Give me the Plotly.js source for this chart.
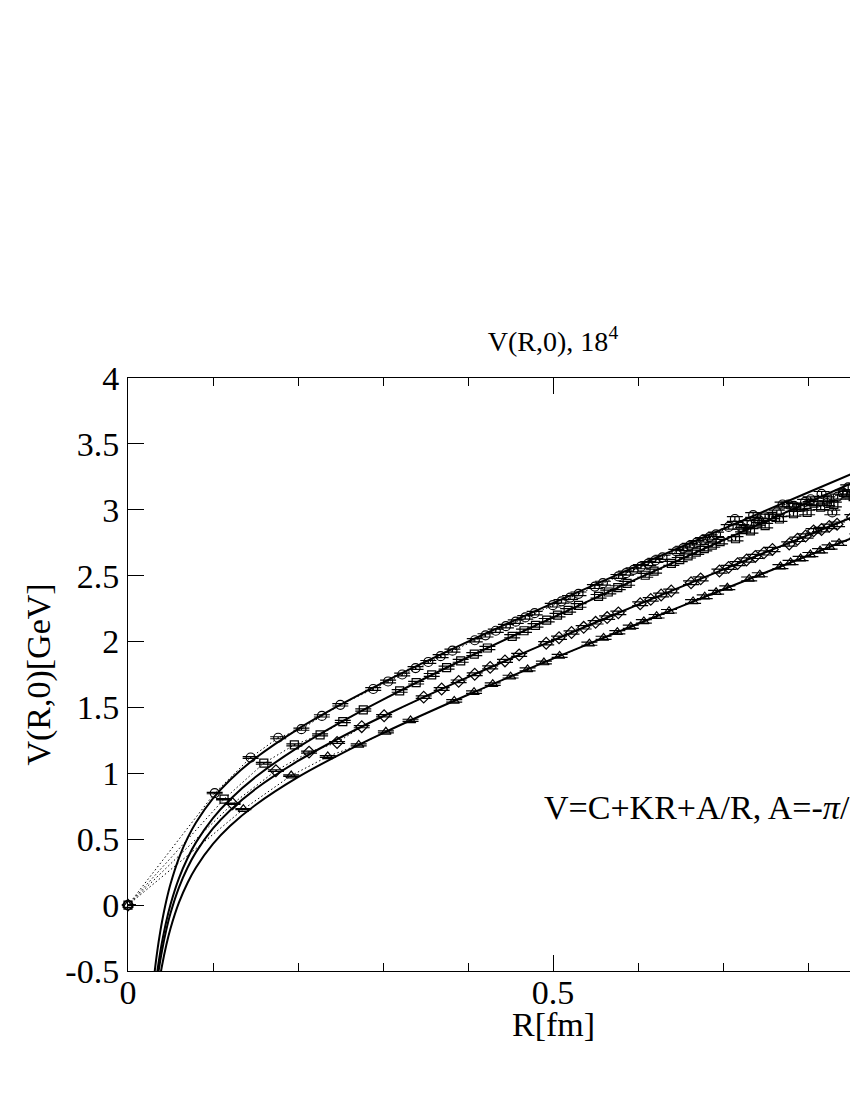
<!DOCTYPE html>
<html><head><meta charset="utf-8">
<script src="https://cdn.plot.ly/plotly-3.0.1.min.js"></script>
<style>html,body{margin:0;padding:0;overflow:hidden;background:#fff}</style>
</head><body><div id="chart" style="width:1000px;height:1100px"></div>
<script>
// Circle series (finest lattice spacing)
const circleR = [0, 0.102, 0.1443, 0.1767, 0.204, 0.2281, 0.2498, 0.2885, 0.306, 0.3226, 0.3383, 0.3533, 0.3678, 0.3817, 0.408, 0.4206, 0.4327, 0.4446, 0.4562, 0.4674, 0.4784, 0.4997, 0.51, 0.5201, 0.53, 0.5493, 0.5587, 0.577, 0.5859, 0.5948, 0.6034, 0.612, 0.6204, 0.6288, 0.6451, 0.6531, 0.661, 0.6689, 0.6766, 0.6842, 0.6918, 0.7067, 0.714, 0.7213, 0.7284, 0.7355, 0.7426, 0.7495, 0.7633, 0.7701, 0.7768, 0.7835, 0.7966, 0.8031, 0.816, 0.8224, 0.8286, 0.8349, 0.8411, 0.8473];
const circleV = [0, 0.85, 1.12, 1.27, 1.335, 1.436, 1.52, 1.640, 1.697, 1.750, 1.799, 1.845, 1.889, 1.931, 2.010, 2.047, 2.082, 2.117, 2.151, 2.183, 2.215, 2.276, 2.305, 2.334, 2.362, 2.417, 2.443, 2.494, 2.519, 2.544, 2.568, 2.592, 2.616, 2.639, 2.684, 2.707, 2.728, 2.750, 2.772, 2.793, 2.814, 2.87, 2.93, 2.87, 2.90, 2.96, 2.92, 2.95, 2.98, 3.04, 3.04, 3.03, 3.06, 3.08, 3.12, 3.05, 2.98, 3.10, 3.13, 3.17];

// Square series
const squareR = [0, 0.113, 0.1598, 0.1957, 0.226, 0.2527, 0.2768, 0.3196, 0.339, 0.3573, 0.3748, 0.3914, 0.4074, 0.4228, 0.452, 0.4659, 0.4794, 0.4926, 0.5053, 0.5178, 0.53, 0.5536, 0.565, 0.5762, 0.5872, 0.6085, 0.6189, 0.6392, 0.6491, 0.6589, 0.6685, 0.678, 0.6874, 0.6966, 0.7147, 0.7236, 0.7323, 0.741, 0.7496, 0.758, 0.7664, 0.7829, 0.791, 0.799, 0.807, 0.8149, 0.8227, 0.8304, 0.8456, 0.8531];
const squareV = [0, 0.804, 1.077, 1.216, 1.292, 1.393, 1.481, 1.625, 1.688, 1.747, 1.802, 1.854, 1.904, 1.951, 2.040, 2.082, 2.123, 2.162, 2.200, 2.237, 2.274, 2.343, 2.376, 2.409, 2.442, 2.503, 2.534, 2.593, 2.622, 2.650, 2.678, 2.705, 2.732, 2.758, 2.78, 2.85, 2.84, 2.90, 2.88, 2.95, 2.93, 2.97, 3.02, 2.98, 3.05, 3.02, 3.08, 3.04, 3.12, 3.10];

// Diamond series
const diamondR = [0, 0.123, 0.174, 0.213, 0.246, 0.275, 0.3013, 0.3479, 0.369, 0.389, 0.4079, 0.4261, 0.4435, 0.4602, 0.492, 0.5071, 0.5218, 0.5361, 0.5501, 0.5637, 0.5769, 0.6026, 0.615, 0.6272, 0.6391, 0.6624, 0.6737, 0.6958, 0.7066, 0.7172, 0.7277, 0.738, 0.7482, 0.7582, 0.7779, 0.7876, 0.7971, 0.8066, 0.8159, 0.8251, 0.8342, 0.8522];
const diamondV = [0, 0.769, 1.02, 1.161, 1.234, 1.354, 1.437, 1.578, 1.640, 1.698, 1.752, 1.804, 1.853, 1.899, 1.987, 2.029, 2.069, 2.108, 2.146, 2.182, 2.218, 2.287, 2.320, 2.353, 2.384, 2.446, 2.476, 2.535, 2.563, 2.591, 2.619, 2.646, 2.673, 2.699, 2.74, 2.776, 2.801, 2.84, 2.850, 2.874, 2.89, 2.945];

// Triangle series (coarsest lattice spacing)
const triangleR = [0, 0.1357, 0.192, 0.235, 0.2714, 0.3034, 0.3324, 0.3838, 0.4071, 0.4291, 0.4501, 0.4701, 0.4893, 0.5078, 0.5428, 0.5595, 0.5757, 0.5915, 0.6069, 0.6219, 0.6365, 0.6648, 0.6785, 0.6919, 0.7051, 0.7308, 0.7433, 0.7676, 0.7795, 0.7913, 0.8028, 0.8142, 0.8254, 0.8365, 0.8582];
const triangleV = [0, 0.728, 0.983, 1.128, 1.216, 1.315, 1.402, 1.550, 1.616, 1.677, 1.734, 1.789, 1.841, 1.891, 1.984, 2.028, 2.071, 2.112, 2.153, 2.192, 2.230, 2.304, 2.340, 2.374, 2.408, 2.475, 2.507, 2.569, 2.600, 2.630, 2.660, 2.689, 2.717, 2.746, 2.801];

// Fit curves V=C+KR+A/R at these R values
const curveR = [0.03, 0.032, 0.034, 0.036, 0.038, 0.04, 0.045, 0.05, 0.06, 0.07, 0.08, 0.1, 0.12, 0.15, 0.2, 0.25, 0.3, 0.4, 0.5, 0.6, 0.7, 0.8, 0.9, 1.0];
const fitCircle   = [-0.583, -0.470, -0.370, -0.280, -0.199, -0.126, 0.031, 0.160, 0.359, 0.508, 0.627, 0.810, 0.950, 1.116, 1.336, 1.521, 1.689, 1.999, 2.292, 2.576, 2.855, 3.131, 3.406, 3.678];
const fitSquare   = [-0.740, -0.627, -0.526, -0.436, -0.355, -0.282, -0.124, 0.005, 0.205, 0.356, 0.476, 0.661, 0.802, 0.972, 1.197, 1.387, 1.560, 1.881, 2.184, 2.479, 2.769, 3.055, 3.340, 3.623];
const fitDiamond  = [-0.802, -0.690, -0.589, -0.500, -0.419, -0.346, -0.190, -0.062, 0.135, 0.284, 0.402, 0.582, 0.718, 0.881, 1.094, 1.272, 1.433, 1.730, 2.009, 2.280, 2.546, 2.808, 3.069, 3.328];
const fitTriangle = [-0.916, -0.803, -0.703, -0.614, -0.533, -0.460, -0.304, -0.177, 0.020, 0.168, 0.285, 0.464, 0.600, 0.760, 0.971, 1.146, 1.305, 1.596, 1.870, 2.135, 2.395, 2.652, 2.908, 3.161];

const yTickVals = [-0.5, 0, 0.5, 1, 1.5, 2, 2.5, 3, 3.5, 4];
const yTickText = ['-0.5', '0', '0.5', '1', '1.5', '2', '2.5', '3', '3.5', '4'];
const xTickVals = [0, 0.5, 1];
const xTickText = ['0', '0.5', '1'];

const FONT = 'Liberation Serif, Times New Roman, serif';

function fitTrace(y) {
  return {x: curveR, y: y, mode: 'lines', type: 'scatter', hoverinfo: 'skip',
    line: {color: 'black', width: 2, shape: 'spline', smoothing: 0.8}, showlegend: false};
}
function dataTrace(x, y, sym, size) {
  return {x: x, y: y, mode: 'lines+markers', type: 'scatter', cliponaxis: false,
    line: {color: 'black', width: 1, dash: '1.5px,2.5px'},
    marker: {symbol: sym, size: size, color: 'black', line: {color: 'black', width: 1.2}},
    error_y: {type: 'percent', value: 0.6, width: 8, thickness: 1.2, color: 'black'},
    showlegend: false};
}

const traces = [
  fitTrace(fitCircle), fitTrace(fitSquare), fitTrace(fitDiamond), fitTrace(fitTriangle),
  dataTrace(circleR, circleV, 'circle-open', 9),
  dataTrace(squareR, squareV, 'square-open', 8),
  dataTrace(diamondR, diamondV, 'diamond-open', 9),
  dataTrace(triangleR, triangleV, 'triangle-up-open', 9)
];

const layout = {
  width: 1000, height: 1100,
  margin: {l: 128, r: 22, t: 378, b: 129},
  paper_bgcolor: 'white', plot_bgcolor: 'white',
  font: {family: FONT, size: 34, color: 'black'},
  title: {text: 'V(R,0), 18<sup>4</sup>', x: 0.5, xref: 'paper', xanchor: 'center',
    y: 1 - 341 / 1100, yref: 'container', yanchor: 'middle',
    font: {family: FONT, size: 28, color: 'black'}},
  xaxis: {range: [0, 1], tickmode: 'array', tickvals: xTickVals, ticktext: xTickText,
    showgrid: false, zeroline: false, showline: true, linecolor: 'black', linewidth: 1,
    mirror: 'ticks', ticks: 'inside', ticklen: 16, tickwidth: 1, tickcolor: 'black',
    ticklabelstandoff: -9,
    minor: {tickmode: 'linear', tick0: 0, dtick: 0.1, ticks: 'inside', ticklen: 8, tickwidth: 1, tickcolor: 'black', showgrid: false},
    tickfont: {family: FONT, size: 34, color: 'black'}},
  yaxis: {range: [-0.5, 4], tickmode: 'array', tickvals: yTickVals, ticktext: yTickText,
    showgrid: false, zeroline: false, showline: true, linecolor: 'black', linewidth: 1,
    mirror: 'ticks', ticks: 'inside', ticklen: 16, tickwidth: 1, tickcolor: 'black',
    ticklabelstandoff: 1,
    tickfont: {family: FONT, size: 34, color: 'black'},
    title: {text: 'V(R,0)[GeV]', standoff: 4, font: {family: FONT, size: 34, color: 'black'}}},
  annotations: [{
    text: 'V=C+KR+A/R, A=-<i>π</i>/12', xref: 'x', yref: 'y', x: 0.487, y: 0.74,
    xanchor: 'left', yanchor: 'middle', showarrow: false,
    font: {family: FONT, size: 34, color: 'black'}
  }, {
    text: 'R[fm]', xref: 'paper', yref: 'paper', x: 0.5, y: -0.091,
    xanchor: 'center', yanchor: 'middle', showarrow: false,
    font: {family: FONT, size: 34, color: 'black'}
  }]
};

Plotly.newPlot('chart', traces, layout, {displayModeBar: false, staticPlot: true});
</script>
</body></html>
